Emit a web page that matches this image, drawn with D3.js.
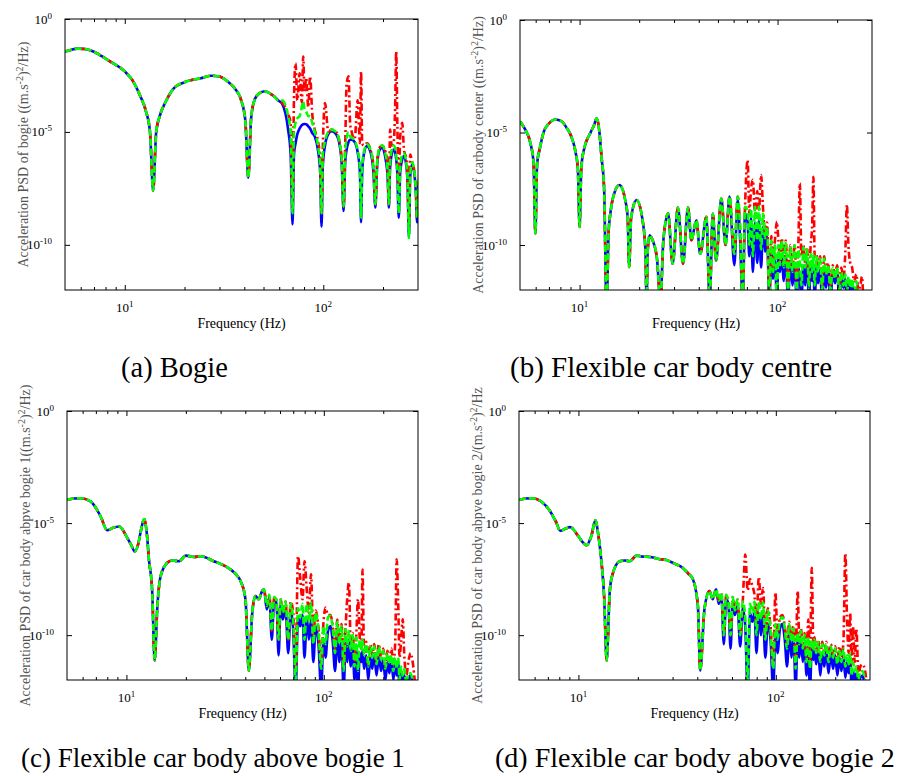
<!DOCTYPE html>
<html>
<head>
<meta charset="utf-8">
<title>Acceleration PSD</title>
<script src="https://cdn.jsdelivr.net/npm/d3@7"></script>
<style>
    body { margin: 0; background: #fff; }
    svg text { font-family: "Liberation Serif", "Times New Roman", serif; }
    .frame { fill: none; stroke: #000; stroke-width: 1; }
    .tick line { stroke: #000; }
    .ylab { fill: #555; font-size: 14px; }
    .xlab { fill: #000; font-size: 14px; }
    .ticklab { fill: #000; font-size: 13px; }
    .caption { fill: #000; }
</style>
</head>
<body>
<svg id="chart" width="909" height="776"></svg>
<script>
// values are log10 of PSD ((m/s^2)^2/Hz)
// low-frequency part: the three cases lie on top of each other
var freqLoA = [5, 5.4, 5.75, 6.3, 7, 7.5, 8.5, 10, 11, 12, 12.8, 13.4, 13.9, 14.4, 15, 16, 17.7, 20, 24.2, 27.2, 30, 33, 36, 38.5, 40.5, 41.9, 43.3, 45.1, 47.5, 50.7, 54, 57, 59.2];
var logLoA = [-1.44, -1.36, -1.31, -1.33, -1.45, -1.6, -1.9, -2.32, -2.75, -3.43, -4.1, -5.0, -7.6, -5.0, -4.3, -3.7, -3.06, -2.8, -2.62, -2.51, -2.55, -2.77, -3.1, -3.57, -4.5, -7.03, -4.4, -3.57, -3.3, -3.2, -3.3, -3.45, -3.6];

var freqHiA = [62, 66.5, 68.5, 70, 71.2, 72.5, 74, 76, 78, 79.2, 80.5, 82, 84, 85.8, 88, 90.6, 94, 96.5, 98, 99.5, 102, 106, 110, 116, 121, 124, 126.5, 129, 131, 134, 136.5, 139, 144, 149, 153, 155, 157, 160, 166, 173, 179, 183, 187, 192, 198, 206, 211, 214, 217, 221, 226, 230, 233, 236, 240, 244, 250, 255, 262, 266, 270, 274, 280, 288, 293, 297, 301, 305];
var blueHiA = [-3.75, -4.9, -6.0, -9.1, -6.0, -5.5, -5.1, -4.85, -4.7, -4.66, -4.65, -4.66, -4.75, -4.85, -5.05, -5.2, -5.8, -6.8, -9.2, -6.5, -5.6, -5.1, -4.97, -5.1, -5.6, -6.5, -8.5, -6.3, -5.8, -5.45, -5.35, -5.34, -5.45, -5.9, -6.8, -9.0, -6.8, -6.0, -5.63, -5.9, -6.8, -8.35, -6.4, -5.8, -5.7, -6.2, -7.0, -8.35, -6.6, -6.0, -5.78, -5.9, -6.2, -6.8, -8.8, -6.8, -6.2, -6.07, -6.5, -7.3, -9.67, -7.0, -6.44, -6.9, -7.8, -9.0, -7.5, -7.1];
var redHiA = [-3.7, -4.2, -4.6, -8.4, -3.5, -1.96, -3.6, -2.4, -3.7, -1.66, -3.2, -2.6, -3.9, -2.54, -4.2, -4.9, -5.4, -6.3, -8.6, -5.6, -3.72, -5.0, -4.9, -5.0, -5.5, -6.3, -8.3, -5.5, -2.9, -2.54, -4.6, -5.0, -5.3, -3.6, -5.5, -2.32, -5.5, -5.6, -5.5, -5.8, -6.5, -8.2, -6.3, -5.7, -5.6, -5.9, -6.5, -8.2, -4.9, -5.6, -5.5, -4.0, -1.44, -4.6, -7.5, -5.2, -4.6, -5.8, -6.2, -7.0, -9.3, -6.0, -6.3, -6.8, -7.6, -8.8, -7.3, -7.0];
var greenHiA = [-3.6, -4.3, -5.0, -8.6, -5.0, -4.6, -4.4, -4.3, -3.9, -3.65, -4.0, -4.1, -4.3, -4.3, -4.6, -5.0, -5.6, -6.5, -8.6, -6.0, -5.4, -5.0, -4.9, -5.0, -5.5, -6.3, -8.3, -5.9, -5.3, -5.0, -5.2, -5.25, -5.4, -5.8, -6.6, -8.8, -6.6, -5.9, -5.55, -5.8, -6.6, -8.2, -6.3, -5.7, -5.6, -6.0, -6.8, -8.2, -6.4, -5.8, -5.6, -5.7, -6.0, -6.6, -8.6, -6.6, -6.0, -5.95, -6.4, -7.2, -9.7, -6.9, -6.35, -6.8, -7.7, -8.8, -7.4, -7.0];

var freqLoB = [5, 5.3, 5.65, 5.85, 5.98, 6.1, 6.3, 6.59, 7, 7.55, 8.1, 8.64, 9.1, 9.5, 9.8, 10.0, 10.2, 10.5, 11.3, 11.8, 12.2, 12.6, 12.9, 13.3, 13.7, 14.0, 14.3, 14.8, 15.9, 17.0, 17.5, 17.8, 18.2, 19.4, 20.8, 21.5, 21.8, 22.1, 22.6, 23.4, 24.6, 25.6, 26.5, 28.0, 29.5, 31.4, 33.3, 35.3, 36.7, 38.9, 40.7, 43.7, 45.4, 47.1, 48.9, 52, 54.6, 57.2];
var logLoB = [-4.52, -4.85, -5.49, -6.3, -9.5, -6.4, -5.7, -4.97, -4.6, -4.42, -4.5, -4.82, -5.2, -5.79, -6.6, -9.2, -6.6, -5.79, -5.04, -4.7, -4.37, -5.0, -6.08, -7.5, -13, -9.5, -8.6, -7.85, -7.33, -8.0, -8.8, -10.98, -8.8, -8.0, -8.9, -10.2, -12.5, -10.2, -9.57, -9.8, -10.6, -12.5, -9.8, -8.6, -10.83, -8.33, -10.83, -8.33, -9.79, -8.9, -10.39, -8.75, -12.5, -8.6, -10.7, -7.94, -10.0, -7.85];

var freqHiB = [60.5, 62.9, 64.5, 66.7, 68.5, 70.6, 72, 73.5, 75, 77, 79, 80.5, 82.6, 84.5, 86.5, 88.5, 90.9, 93, 95, 97, 99.3, 101, 103, 105, 107.5, 110, 113, 116, 119, 122, 125, 127.5, 129.6, 132, 135, 138, 141, 144, 147, 149.5, 151.8, 154, 157, 160, 164, 168, 172, 176, 180, 185, 190, 195, 200, 205, 210, 215, 220, 224, 228, 233, 238, 244, 250, 256, 262, 267, 272, 278];
var blueHiB = [-10.9, -8.0, -9.5, -12.5, -8.6, -9.0, -10.5, -8.8, -11.2, -9.0, -10.8, -8.9, -11.0, -9.2, -10.3, -9.6, -12.5, -10.2, -11.5, -10.6, -12.5, -10.6, -11.2, -10.4, -11.6, -10.5, -12.5, -10.7, -11.8, -10.8, -12.5, -11.0, -11.5, -12.5, -10.9, -11.8, -10.7, -12.5, -11.0, -11.6, -10.9, -12.5, -11.0, -11.7, -11.1, -12.5, -11.2, -11.9, -11.0, -12.5, -11.2, -11.7, -11.1, -12.5, -11.4, -11.9, -11.5, -12.5, -11.6, -12.0, -11.6, -12.5, -11.9, -12.5, -12.3, -12.5, -12.5, -12.5];
var redHiB = [-10.4, -7.85, -9.0, -12.5, -8.3, -6.23, -8.6, -7.5, -7.1, -8.6, -7.6, -8.5, -6.89, -8.4, -9.5, -9.0, -12.5, -9.6, -11.0, -9.8, -8.97, -9.8, -10.7, -9.7, -10.8, -9.8, -11.8, -10.0, -11.0, -10.0, -11.8, -9.8, -7.26, -10.5, -10.0, -10.8, -10.1, -11.6, -10.0, -9.2, -6.97, -10.5, -10.4, -11.0, -10.5, -11.8, -10.5, -11.2, -10.8, -11.8, -10.9, -11.4, -10.9, -11.9, -11.0, -11.5, -10.3, -8.2, -10.0, -10.8, -11.0, -11.6, -11.3, -12.0, -11.8, -11.4, -12.5, -12.5];
var greenHiB = [-10.4, -7.85, -9.0, -12.5, -8.3, -8.5, -10.0, -8.4, -10.5, -8.3, -9.8, -8.3, -10.2, -8.6, -9.7, -9.2, -12.5, -9.8, -11.2, -10.0, -12.5, -10.0, -10.9, -9.8, -11.0, -9.9, -12.0, -10.1, -11.2, -10.0, -12.0, -10.2, -10.8, -11.8, -10.1, -11.0, -10.2, -11.9, -10.4, -11.2, -10.4, -11.8, -10.5, -11.2, -10.6, -12.0, -10.6, -11.3, -10.9, -12.0, -11.0, -11.5, -11.0, -12.2, -11.2, -11.8, -11.3, -12.3, -11.4, -11.9, -11.5, -12.3, -11.6, -12.4, -12.5, -12.5, -12.5, -12.5];

var freqLoC = [5, 5.4, 5.88, 6.6, 7.4, 8.0, 8.5, 9.18, 10.1, 10.6, 11.0, 11.5, 11.8, 12.3, 12.7, 13.0, 13.5, 13.9, 14.35, 14.9, 16.1, 17.0, 18.5, 20, 22, 23.8, 27.7, 30.5, 33.7, 36, 37.9, 40.1, 41.7, 43.4, 45.1, 46.8, 48.7, 49.8];
var logLoC = [-3.96, -3.9, -3.89, -4.04, -4.7, -5.32, -5.22, -5.15, -5.66, -6.0, -6.26, -5.9, -5.4, -4.82, -5.5, -6.62, -8.0, -11.13, -8.7, -7.37, -6.77, -6.67, -6.7, -6.45, -6.51, -6.48, -6.7, -6.85, -7.07, -7.3, -7.59, -8.4, -11.58, -8.99, -8.25, -8.4, -8.03, -7.95];

var freqLoD = [5, 5.4, 5.82, 6.5, 7.2, 7.7, 8.09, 8.6, 9.08, 10, 10.5, 11.0, 11.6, 12.2, 12.6, 13.0, 13.5, 13.9, 14.4, 14.8, 16.2, 17.2, 18.2, 19.7, 21.5, 23, 25.5, 27.9, 30.5, 33.8, 36, 38, 40.3, 41.4, 43.5, 46.1, 47.9, 49.8];
var logLoD = [-3.96, -3.9, -3.89, -4.05, -4.48, -4.95, -5.34, -5.25, -5.18, -5.59, -5.85, -5.99, -5.6, -4.88, -5.5, -6.48, -8.3, -11.13, -8.1, -7.37, -6.7, -6.67, -6.7, -6.45, -6.5, -6.51, -6.6, -6.65, -6.8, -7.0, -7.25, -7.5, -8.7, -11.58, -8.85, -8.03, -8.4, -7.95];

// the two "above bogie" panels share one high-frequency grid
var freqHiCD = [51.4, 53, 54.5, 56, 57.5, 59, 60.5, 62, 64, 66, 68, 70, 72, 74, 76, 78, 79.8, 82, 84, 86.1, 88.5, 91, 94, 97, 99.5, 102, 105, 108, 111, 114, 117, 120, 123, 126, 129, 131.5, 134, 137, 140, 143, 146, 149, 152, 155, 157, 160, 164, 168, 172, 176, 180, 185, 190, 195, 200, 205, 210, 215, 220, 225, 230, 234, 238, 242, 246, 251, 256, 262, 268, 275, 282, 290];
var blueHiC = [-8.85, -8.3, -10.2, -8.5, -8.5, -10.9, -8.6, -9.3, -8.8, -10.8, -8.9, -9.8, -12.5, -9.2, -9.6, -9.1, -11.0, -9.2, -10.2, -9.3, -11.2, -9.6, -10.4, -12.5, -10.2, -11.0, -9.8, -9.6, -10.3, -11.6, -10.0, -11.2, -10.2, -12.5, -10.3, -11.2, -10.2, -11.4, -10.4, -12.0, -10.6, -12.5, -10.8, -11.2, -10.7, -11.5, -10.9, -12.0, -11.0, -11.5, -10.8, -11.8, -10.9, -11.6, -11.1, -12.0, -11.2, -11.7, -11.0, -12.0, -11.3, -11.8, -11.2, -12.5, -11.7, -12.1, -11.8, -12.5, -12.0, -11.8, -12.2, -12.5];
var redHiC = [-8.7, -8.2, -9.8, -8.3, -8.4, -10.2, -8.4, -9.0, -8.5, -10.2, -8.5, -9.0, -11.5, -6.48, -7.5, -8.4, -6.7, -8.0, -9.0, -7.29, -10.0, -8.9, -9.7, -11.3, -9.5, -8.77, -9.1, -9.1, -9.6, -10.6, -9.3, -10.3, -9.5, -11.4, -9.6, -8.3, -7.66, -10.5, -9.9, -11.2, -10.0, -8.4, -10.1, -10.6, -7.07, -10.8, -10.3, -11.3, -10.4, -10.9, -10.4, -11.2, -10.4, -11.0, -10.6, -11.4, -10.7, -11.2, -10.6, -11.3, -10.3, -6.62, -8.5, -11.0, -10.3, -9.29, -11.0, -11.8, -11.2, -10.8, -11.2, -12.2];
var greenHiC = [-8.7, -8.2, -9.8, -8.3, -8.4, -10.2, -8.4, -9.0, -8.5, -10.2, -8.6, -9.4, -12.0, -8.8, -9.2, -8.6, -10.2, -8.6, -9.4, -8.55, -10.4, -9.0, -9.9, -11.5, -9.6, -10.4, -9.2, -9.14, -9.7, -10.8, -9.4, -10.4, -9.6, -11.6, -9.73, -10.5, -9.8, -10.7, -10.0, -11.4, -10.1, -11.6, -10.2, -10.7, -10.2, -10.9, -10.4, -11.4, -10.5, -11.0, -10.5, -11.3, -10.5, -11.1, -10.7, -11.5, -10.8, -11.3, -10.9, -11.6, -11.0, -11.5, -11.0, -12.0, -11.4, -11.8, -11.5, -12.2, -11.7, -11.7, -12.0, -12.5];
var blueHiD = [-8.6, -8.2, -10.4, -8.4, -8.6, -10.6, -8.5, -9.1, -8.7, -10.5, -8.8, -9.6, -12.5, -9.0, -9.4, -9.0, -10.8, -9.0, -10.0, -9.1, -11.0, -9.5, -10.2, -12.5, -10.0, -10.8, -9.7, -9.5, -10.2, -11.4, -9.9, -11.0, -10.1, -12.3, -10.2, -11.0, -10.1, -11.2, -10.3, -11.8, -10.5, -12.5, -10.6, -11.1, -10.6, -11.3, -10.7, -11.8, -10.8, -11.4, -10.7, -11.7, -10.8, -11.5, -10.9, -11.8, -11.0, -11.6, -10.9, -11.9, -11.2, -11.7, -11.0, -12.3, -11.6, -12.0, -11.7, -12.4, -11.9, -11.8, -12.2, -12.5];
var redHiD = [-8.45, -8.1, -10.0, -8.2, -8.5, -10.0, -8.3, -8.9, -8.4, -10.0, -8.5, -6.4, -8.0, -7.5, -7.8, -8.2, -9.5, -7.4, -8.6, -7.9, -10.0, -8.8, -9.6, -11.3, -8.1, -10.0, -9.2, -9.1, -9.6, -10.4, -9.4, -10.2, -9.6, -11.2, -8.03, -10.2, -9.7, -10.5, -9.9, -11.0, -9.3, -11.2, -7.0, -10.5, -10.1, -10.7, -10.2, -11.0, -10.3, -10.8, -10.3, -11.0, -10.4, -10.9, -10.5, -11.1, -10.5, -11.0, -10.3, -6.35, -9.6, -10.8, -9.0, -11.3, -9.6, -11.2, -9.7, -11.8, -11.4, -11.3, -11.5, -12.3];
var greenHiD = [-8.45, -8.1, -10.0, -8.2, -8.5, -10.0, -8.3, -8.9, -8.4, -10.0, -8.5, -9.2, -12.0, -8.6, -9.0, -8.5, -10.0, -8.5, -9.3, -8.55, -10.2, -8.9, -9.8, -11.5, -9.5, -10.2, -9.3, -9.2, -9.7, -10.6, -9.5, -10.3, -9.7, -11.5, -9.9, -10.4, -9.8, -10.6, -10.0, -11.2, -10.1, -11.5, -10.2, -10.7, -10.2, -10.8, -10.3, -11.2, -10.4, -10.9, -10.4, -11.2, -10.5, -11.0, -10.6, -11.3, -10.7, -11.2, -10.6, -11.4, -10.9, -11.3, -10.8, -11.8, -11.2, -11.6, -11.4, -12.0, -11.6, -11.6, -11.9, -12.5];

var xMajor = [10, 100];
var xMinor = [6, 7, 8, 9, 20, 30, 40, 50, 60, 70, 80, 90, 200];
var yMajor = [1e0, 1e-5, 1e-10];

// y-label pieces: [text, isSuperscript]
var labelA = [['Acceleration PSD of bogie ((m.s', 0], ['-2', 1], [')', 0], ['2', 1], ['/Hz)', 0]];
var labelB = [['Acceleration PSD of carbody center ((m.s', 0], ['-2', 1], [')', 0], ['2', 1], ['/Hz)', 0]];
var labelC = [['Acceleration PSD of car body abpve bogie 1((m.s', 0], ['-2', 1], [')', 0], ['2', 1], ['/Hz)', 0]];
var labelD = [['Acceleration PSD of car body abpve bogie 2/(m.s', 0], ['-2', 1], [')', 0], ['2', 1], ['/Hz', 0]];

var panels = [
    {lo: freqLoA, base: logLoA, hi: freqHiA, blue: blueHiA, red: redHiA, green: greenHiA,
     label: labelA, caption: '(a) Bogie', x: 65, y: 19, w: 353, h: 271, capX: 121, capY: 377, capSize: 28.5},
    {lo: freqLoB, base: logLoB, hi: freqHiB, blue: blueHiB, red: redHiB, green: greenHiB,
     label: labelB, caption: '(b) Flexible car body centre', x: 520, y: 20, w: 352, h: 270, capX: 510, capY: 377, capSize: 29},
    {lo: freqLoC, base: logLoC, hi: freqHiCD, blue: blueHiC, red: redHiC, green: greenHiC,
     label: labelC, caption: '(c) Flexible car body above bogie 1', x: 67, y: 411, w: 351, h: 269, capX: 21, capY: 767, capSize: 27},
    {lo: freqLoD, base: logLoD, hi: freqHiCD, blue: blueHiD, red: redHiD, green: greenHiD,
     label: labelD, caption: '(d) Flexible car body above bogie 2', x: 519, y: 411, w: 351, h: 269, capX: 495, capY: 767, capSize: 28}
];

var styles = [
    {key: 'blue', color: '#0000ff', dash: null},
    {key: 'red', color: '#ff0000', dash: '7,3,2,3'},
    {key: 'green', color: '#00ff00', dash: '7,3'}
];

var svg = d3.select('#chart');

// writes text parts as tspans, raising the superscript ones
function addSupText(sel, parts, supSize) {
    var offset = 0;
    parts.forEach(function(pt) {
        var target = pt[1] ? -5 : 0;
        var ts = sel.append('tspan').attr('dy', target - offset).text(pt[0]);
        if (pt[1]) ts.attr('font-size', supSize);
        offset = target;
    });
}

panels.forEach(function(p, i) {
    var g = svg.append('g').attr('transform', 'translate(' + p.x + ',' + p.y + ')');
    var x = d3.scaleLog().domain([5, 300]).range([0, p.w]);
    var y = d3.scaleLog().domain([1e-12, 1]).range([p.h, 0]);

    svg.append('clipPath').attr('id', 'clip' + i)
        .append('rect').attr('width', p.w).attr('height', p.h);

    var line = d3.line()
        .curve(d3.curveMonotoneX)
        .x(function(d) { return x(d[0]); })
        .y(function(d) { return y(Math.pow(10, d[1])); });

    var plot = g.append('g').attr('clip-path', 'url(#clip' + i + ')');
    styles.forEach(function(s) {
        var pts = p.lo.map(function(f, k) { return [f, p.base[k]]; })
            .concat(p.hi.map(function(f, k) { return [f, p[s.key][k]]; }));
        plot.append('path')
            .datum(pts)
            .attr('d', line)
            .attr('fill', 'none')
            .attr('stroke', s.color)
            .attr('stroke-width', 2.6)
            .attr('stroke-linejoin', 'round')
            .attr('stroke-dasharray', s.dash);
    });

    // inward ticks on all four sides
    g.append('g').attr('transform', 'translate(0,' + p.h + ')')
        .call(d3.axisBottom(x).tickValues(xMajor).tickSizeInner(-5).tickSizeOuter(0).tickFormat(''));
    g.append('g').attr('transform', 'translate(0,' + p.h + ')')
        .call(d3.axisBottom(x).tickValues(xMinor).tickSizeInner(-3).tickSizeOuter(0).tickFormat(''));
    g.append('g')
        .call(d3.axisTop(x).tickValues(xMajor).tickSizeInner(-5).tickSizeOuter(0).tickFormat(''));
    g.append('g')
        .call(d3.axisTop(x).tickValues(xMinor).tickSizeInner(-3).tickSizeOuter(0).tickFormat(''));
    g.append('g')
        .call(d3.axisLeft(y).tickValues(yMajor).tickSizeInner(-5).tickSizeOuter(0).tickFormat(''));
    g.append('g').attr('transform', 'translate(' + p.w + ',0)')
        .call(d3.axisRight(y).tickValues(yMajor).tickSizeInner(-5).tickSizeOuter(0).tickFormat(''));
    g.selectAll('.domain').remove();
    g.selectAll('.tick text').remove();

    g.append('rect').attr('class', 'frame').attr('width', p.w).attr('height', p.h);

    xMajor.forEach(function(v) {
        var t = g.append('text').attr('class', 'ticklab')
            .attr('x', x(v)).attr('y', p.h + 22).attr('text-anchor', 'middle');
        addSupText(t, [['10', 0], [String(Math.round(Math.log10(v))), 1]], 9);
    });
    yMajor.forEach(function(v) {
        var t = g.append('text').attr('class', 'ticklab')
            .attr('x', -13).attr('y', y(v) + 4.5).attr('text-anchor', 'end');
        addSupText(t, [['10', 0], [String(Math.round(Math.log10(v))), 1]], 9);
    });

    g.append('text').attr('class', 'xlab')
        .attr('x', p.w / 2).attr('y', p.h + 38).attr('text-anchor', 'middle')
        .text('Frequency (Hz)');

    var yl = g.append('text').attr('class', 'ylab')
        .attr('transform', 'translate(-37,' + (p.h / 2) + ') rotate(-90)')
        .attr('text-anchor', 'middle');
    addSupText(yl, p.label, 10);

    svg.append('text').attr('class', 'caption')
        .attr('x', p.capX).attr('y', p.capY)
        .attr('font-size', p.capSize)
        .text(p.caption);
});
</script>
</body>
</html>
